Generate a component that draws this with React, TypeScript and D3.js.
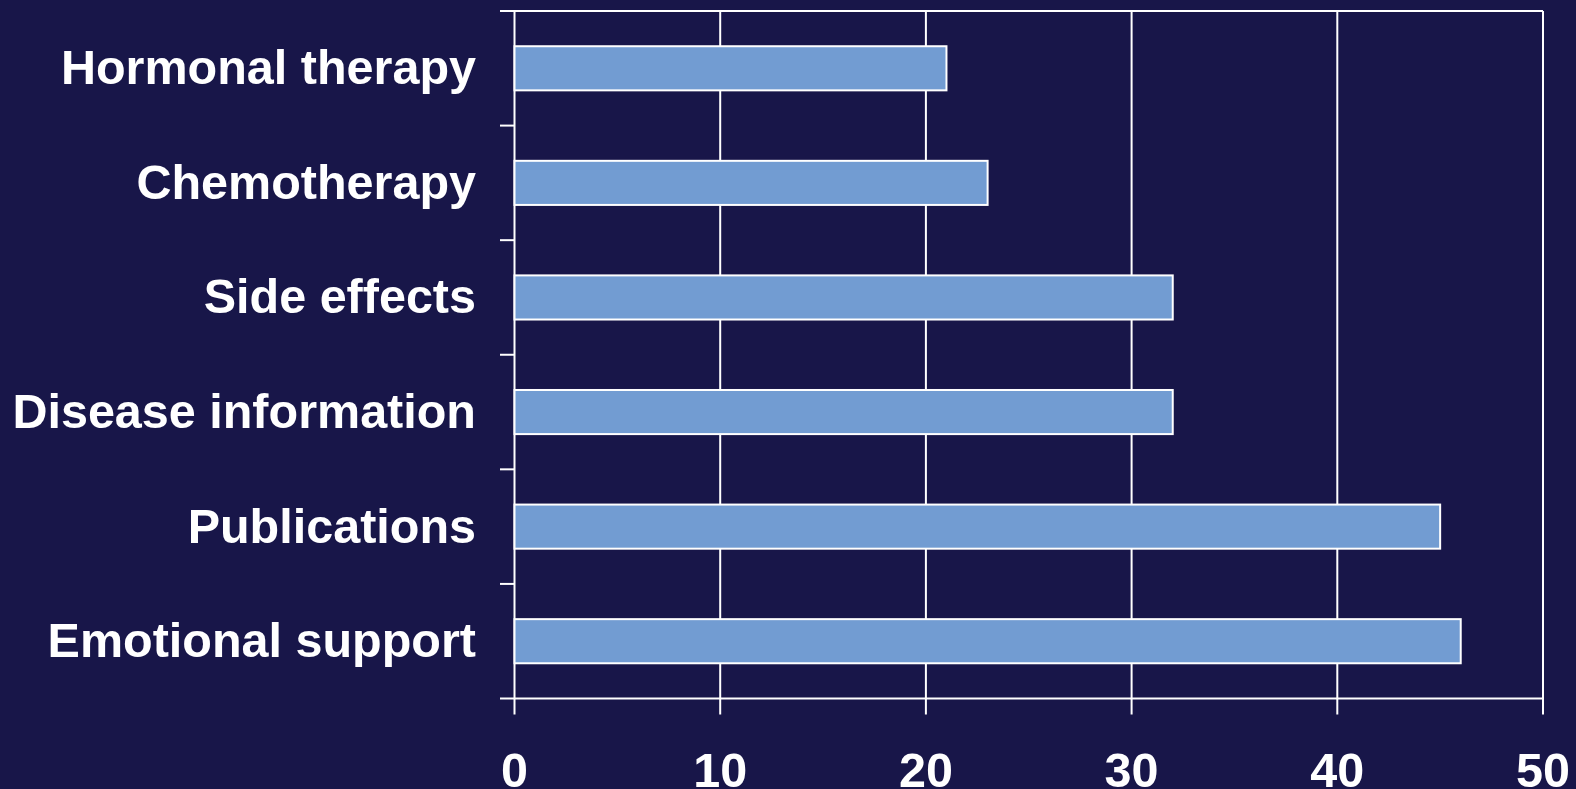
import React from "react";
import * as d3 from "d3";

const categories = [
  "Hormonal therapy",
  "Chemotherapy",
  "Side effects",
  "Disease information",
  "Publications",
  "Emotional support",
];
const values = [21, 23, 32, 32, 45, 46];
const xTicks = [0, 10, 20, 30, 40, 50];

const W = 1576;
const H = 789;
const left = 514.5;
const right = 1543;
const top = 11;
const bottom = 698.5;

export default function App() {
  const x = d3.scaleLinear().domain([0, 50]).range([left, right]);
  const y = d3
    .scaleBand<string>()
    .domain(categories)
    .range([top, bottom])
    .paddingInner(0.615)
    .paddingOuter(0.3075);
  const bandStep = (bottom - top) / categories.length;
  const boundaries = d3.range(categories.length + 1).map((i) => top + i * bandStep);
  const font = "'Liberation Sans', Arial, sans-serif";
  return (
    <svg
      width={W}
      height={H}
      style={{ position: "fixed", left: 0, top: 0, display: "block" }}
    >
      <rect x={0} y={0} width={W} height={H} fill="#181649" />
      {/* gridlines */}
      {xTicks.map((t) => (
        <line
          key={"g" + t}
          x1={x(t)}
          x2={x(t)}
          y1={top}
          y2={bottom + 16}
          stroke="#ffffff"
          strokeWidth={2}
        />
      ))}
      {/* category ticks / top & bottom borders */}
      {boundaries.map((b, i) => (
        <line
          key={"b" + i}
          x1={500}
          x2={i === 0 || i === categories.length ? right : left}
          y1={b}
          y2={b}
          stroke="#ffffff"
          strokeWidth={2}
        />
      ))}
      {/* bars */}
      {categories.map((c, i) => (
        <rect
          key={c}
          x={x(0)}
          y={y(c)}
          width={x(values[i]) - x(0)}
          height={y.bandwidth()}
          fill="#729cd2"
          stroke="#ffffff"
          strokeWidth={2}
        />
      ))}
      {/* category labels */}
      {categories.map((c) => (
        <text
          key={"l" + c}
          x={476}
          y={(y(c) as number) + y.bandwidth() / 2}
          dy="0.33em"
          textAnchor="end"
          fill="#ffffff"
          fontFamily={font}
          fontWeight="bold"
          fontSize={48.5}
        >
          {c}
        </text>
      ))}
      {/* x tick labels */}
      {xTicks.map((t) => (
        <text
          key={"t" + t}
          x={x(t)}
          y={786.5}
          textAnchor="middle"
          fill="#ffffff"
          fontFamily={font}
          fontWeight="bold"
          fontSize={48.5}
        >
          {t}
        </text>
      ))}
    </svg>
  );
}
